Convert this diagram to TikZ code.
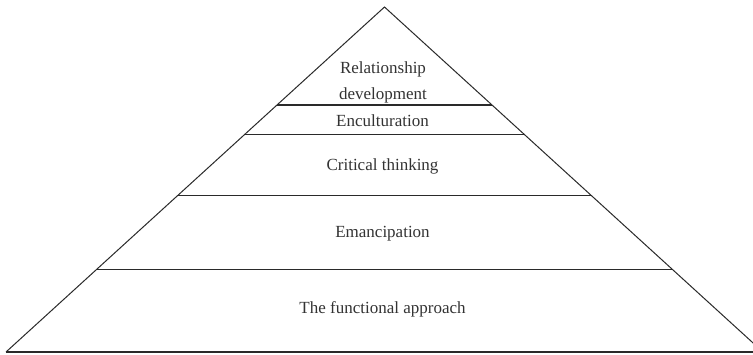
\documentclass[tikz,border=0pt]{standalone}
\usepackage{fontspec}
\setmainfont{Liberation Serif}
\usetikzlibrary{calc}
\definecolor{linec}{HTML}{2A2A2A}
\definecolor{textc}{HTML}{333333}
\tikzset{
  edge/.style={draw=linec, line width=1pt},
  tier/.style={draw=linec, line width=1.4pt},
  lbl/.style={font=\fontsize{17}{20}\selectfont, text=textc, align=center, inner sep=0pt}
}
\begin{document}
\begin{tikzpicture}[x=1pt,y=1pt]
\useasboundingbox (0,0) rectangle (753,-354);
\clip (0,0) rectangle (753,-354);
\fill[white] (0,0) rectangle (753,-354);
\coordinate (A) at (384.5,-7);
\coordinate (L) at (6,-352);
\coordinate (R) at (763,-352);
\coordinate (L1) at ($(A)!0.284!(L)$);
\coordinate (R1) at ($(A)!0.284!(R)$);
\coordinate (L2) at ($(A)!0.3696!(L)$);
\coordinate (R2) at ($(A)!0.3696!(R)$);
\coordinate (L3) at ($(A)!0.547!(L)$);
\coordinate (R3) at ($(A)!0.547!(R)$);
\coordinate (L4) at ($(A)!0.760!(L)$);
\coordinate (R4) at ($(A)!0.760!(R)$);
\draw[edge] (L) -- (A) -- (R);
\draw[tier] (L1) -- (R1);
\draw[tier] (L2) -- (R2);
\draw[tier] (L3) -- (R3);
\draw[tier] (L4) -- (R4);
\draw[tier] (L) -- (R);
\node[lbl] (t1) at (383,-82) {Relationship\\[6pt]development};
\node[lbl] (t2) at (382.5,-121) {Enculturation};
\node[lbl] (t3) at (382.5,-166) {Critical thinking};
\node[lbl] (t4) at (382.5,-234) {Emancipation};
\node[lbl] (t5) at (382.5,-309) {The functional approach};
\end{tikzpicture}
\end{document}
